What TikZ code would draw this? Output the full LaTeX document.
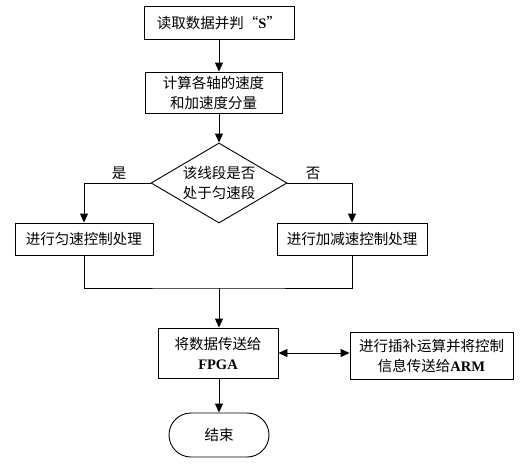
\documentclass[tikz,border=0pt]{standalone}
\usepackage{fontspec}
\setmainfont{Liberation Serif}
\newfontfamily\cjk{Noto Sans CJK SC}
\usetikzlibrary{arrows.meta,shapes.geometric}
\begin{document}
\begin{tikzpicture}[x=1pt,y=-1pt,line width=0.9pt,>={Triangle[length=9pt,width=8pt]},
	box/.style={draw,rectangle,inner sep=0pt,align=center},
	txt/.style={font=\cjk\fontsize{14.5}{20}\selectfont}]
	\useasboundingbox (0,0) rectangle (523,467);
	\coordinate (spine) at (219,0);
	\node[box,txt,minimum width=150pt,minimum height=33pt] (read) at (219,22.5) {读取数据并判“{\rmfamily\bfseries S}”};
	\node[box,txt,minimum width=137pt,minimum height=41pt] (calc) at (213.5,92.5) {计算各轴的速度\\和加速度分量};
	\node[draw,diamond,txt,aspect=1.7,inner sep=0pt,minimum width=136pt,minimum height=80pt,align=center] (test) at (219,183) {该线段是否\\处于匀速段};
	\node[txt] (yes) at (119,173) {是};
	\node[txt] (no) at (313,173) {否};
	\node[box,txt,minimum width=138pt,minimum height=32pt] (even) at (84,239) {进行匀速控制处理};
	\node[box,txt,minimum width=150pt,minimum height=32pt] (accel) at (352,239) {进行加减速控制处理};
	\coordinate (join) at (219,288);
	\node[box,txt,minimum width=120pt,minimum height=50pt] (send) at (218,353) {将数据传送给\\{\rmfamily\bfseries FPGA}};
	\node[box,txt,minimum width=163pt,minimum height=47pt] (interp) at (431.5,355.5) {进行插补运算并将控制\\信息传送给{\rmfamily\bfseries ARM}};
	\node[draw,txt,rectangle,rounded corners=22pt,minimum width=100pt,minimum height=44pt] (stop) at (219,435) {结束};
	% connectors
	\draw[->] (read.south -| spine) -- (calc.north -| spine);
	\draw[->] (calc.south -| spine) -- (test.north);
	\draw[->] (test.west) -| (even.north);
	\draw[->] (test.east) -| (accel.north);
	\draw (even.south) |- (join) -| (accel.south);
	\draw[->] (join) -- (send.north -| join);
	\draw[<->] (send.east) -- (send.east -| interp.west);
	\draw[->] (send.south -| spine) -- (stop.north);
\end{tikzpicture}
\end{document}
